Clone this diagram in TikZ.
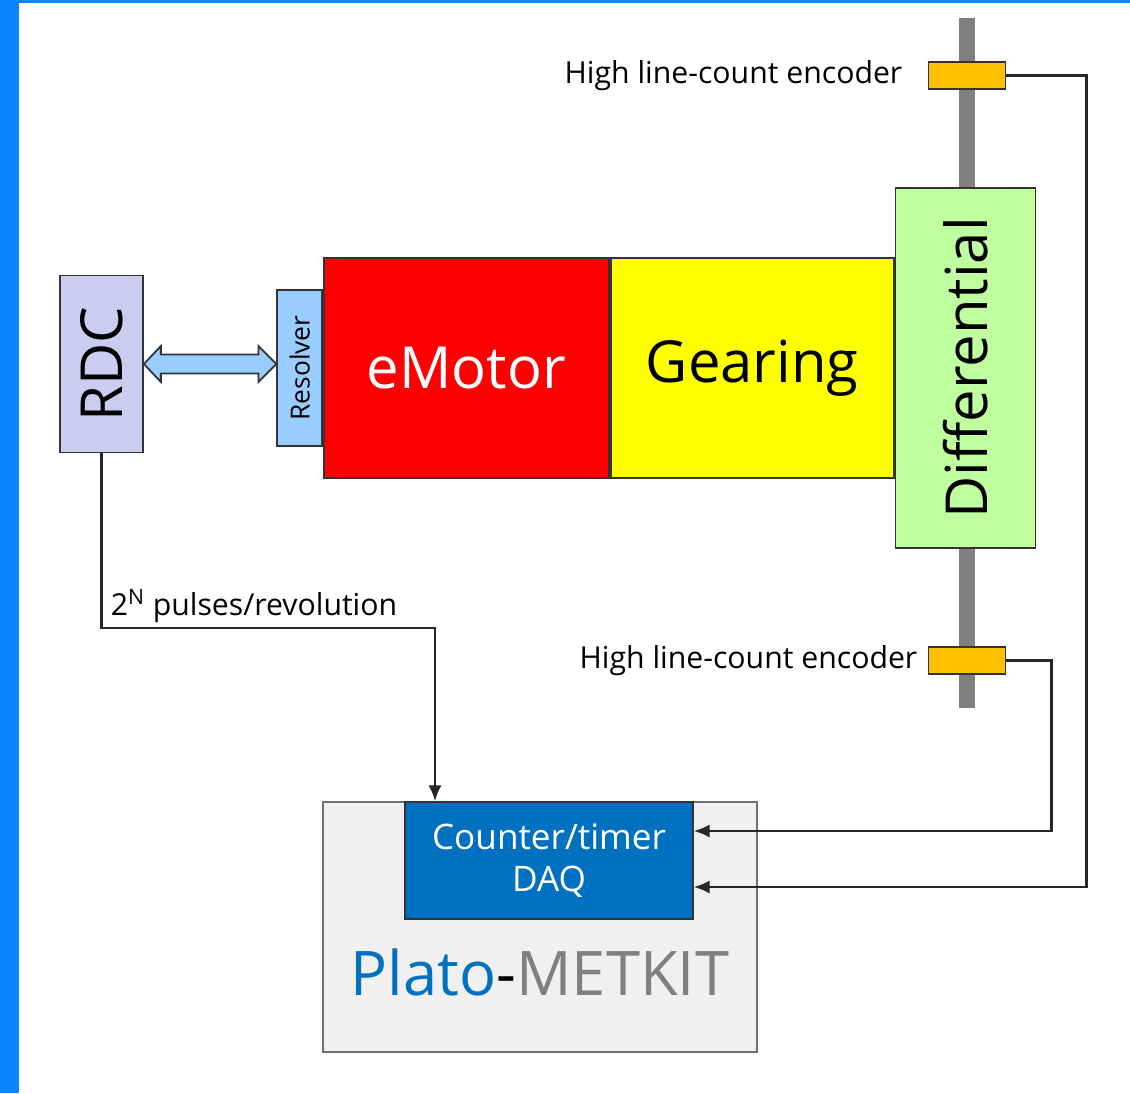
\documentclass[tikz,border=0pt]{standalone}
\usepackage{fontspec}
\setmainfont{Open Sans}
\usepackage{xcolor}
\usepackage{graphicx}
\usepackage{tikz}
\usetikzlibrary{arrows.meta, positioning, calc}
\definecolor{framecol}{HTML}{0A84FF}
\definecolor{rdcfill}{HTML}{CCCCF0}
\definecolor{resfill}{HTML}{99CCFF}
\definecolor{motfill}{HTML}{FF0000}
\definecolor{gearfill}{HTML}{FFFF00}
\definecolor{difffill}{HTML}{C0FFA0}
\definecolor{encfill}{HTML}{FFC000}
\definecolor{shaftfill}{HTML}{808080}
\definecolor{kitfill}{HTML}{F0F0F0}
\definecolor{kitdraw}{HTML}{707070}
\definecolor{daqfill}{HTML}{0070C0}
\definecolor{boxdraw}{HTML}{333333}
\tikzset{
  blk/.style={rectangle, draw=boxdraw, line width=1pt, align=center, inner sep=0pt},
  big/.style={font=\fontsize{33}{38}\selectfont},
  rdcbox/.style={blk, big, fill=rdcfill, minimum width=1.66cm, minimum height=3.54cm},
  resbox/.style={blk, fill=resfill, font=\fontsize{15}{18}\selectfont, minimum width=0.9cm, minimum height=3.12cm},
  motbox/.style={blk, big, fill=motfill, text=white, minimum width=5.7cm, minimum height=4.4cm},
  gearbox/.style={blk, big, fill=gearfill, minimum width=5.66cm, minimum height=4.4cm},
  diffbox/.style={blk, big, fill=difffill, minimum width=2.8cm, minimum height=7.2cm},
  encbox/.style={blk, fill=encfill, minimum width=1.54cm, minimum height=0.54cm},
  shaftbar/.style={rectangle, fill=shaftfill, inner sep=0pt, minimum width=0.32cm, minimum height=13.8cm},
  kitbox/.style={blk, draw=kitdraw, fill=kitfill, minimum width=8.68cm, minimum height=5cm},
  daqbox/.style={blk, fill=daqfill, text=white, font=\fontsize{20}{24}\selectfont, minimum width=5.76cm, minimum height=2.34cm},
  lab/.style={inner sep=0pt, font=\fontsize{17.2}{20}\selectfont},
  kitlab/.style={inner sep=0pt, font=\fontsize{35}{40}\selectfont},
  arr/.style={-{Latex[length=9pt, width=7.5pt]}, line width=1.3pt, draw=black!85},
  dblarr/.style={draw=boxdraw, line width=1pt, fill=resfill, line join=miter},
}
\begin{document}
\begin{tikzpicture}[x=0.02cm, y=-0.02cm, node distance=0.2cm]
  \useasboundingbox (0,0) rectangle (1130,1093);
  \fill[framecol] (0,0) rectangle (19,1093);
  \fill[framecol] (0,0) rectangle (1130,3);
  \node[shaftbar] (shaft) at (967,363) {};
  \node[rdcbox] (rdc) at (101.5,364) {\rotatebox{90}{RDC}};
  \node[motbox] (mot) at (466.5,368) {eMotor};
  \node[resbox, left=0pt of mot] (res) {\rotatebox{90}{Resolver}};
  \node[gearbox, right=0pt of mot] (gear) {Gearing};
  \node[diffbox, right=0pt of gear] (diff) {\rotatebox{90}{Differential}};
  \node[encbox] (enc1) at (967,75.5) {};
  \node[encbox] (enc2) at (967,660.5) {};
  \node[lab, left=0.5cm of enc1] (enc1lab) {High line-count encoder};
  \node[lab, left=0.2cm of enc2] (enc2lab) {High line-count encoder};
  \node[kitbox] (kit) at (540,927) {};
  \node[daqbox, anchor=north] (daq) at ($(kit.north)+(9,0)$) {Counter/timer\\DAQ};
  \node[kitlab] (kitname) at (540,972) {\textcolor{daqfill}{Plato}-\textcolor{shaftfill}{METKIT}};
  \coordinate (al) at (rdc.east);
  \coordinate (ar) at (rdc.east -| res.west);
  \draw[dblarr] (al) -- ++(17,-18) -- ++(0,8.5) -- ($(ar)+(-18,-9.5)$) -- ++(0,-8.5) -- (ar)
    -- ++(-18,18) -- ++(0,-8.5) -- ($(al)+(17,9.5)$) -- ++(0,8.5) -- cycle;
  \coordinate (pbend) at (435,628);
  \draw[arr] (rdc.south) |- (pbend) -- (pbend |- daq.north);
  \node[lab, anchor=south west] (pulses) at ($(rdc.south |- pbend)+(9,-5)$) {2\textsuperscript{N} pulses/revolution};
  \draw[arr] (enc1.east) -- ++(80,0) |- ($(daq.east)+(0,26.5)$);
  \draw[arr] (enc2.east) -- ++(45,0) |- ($(daq.east)+(0,-29.5)$);
\end{tikzpicture}
\end{document}
